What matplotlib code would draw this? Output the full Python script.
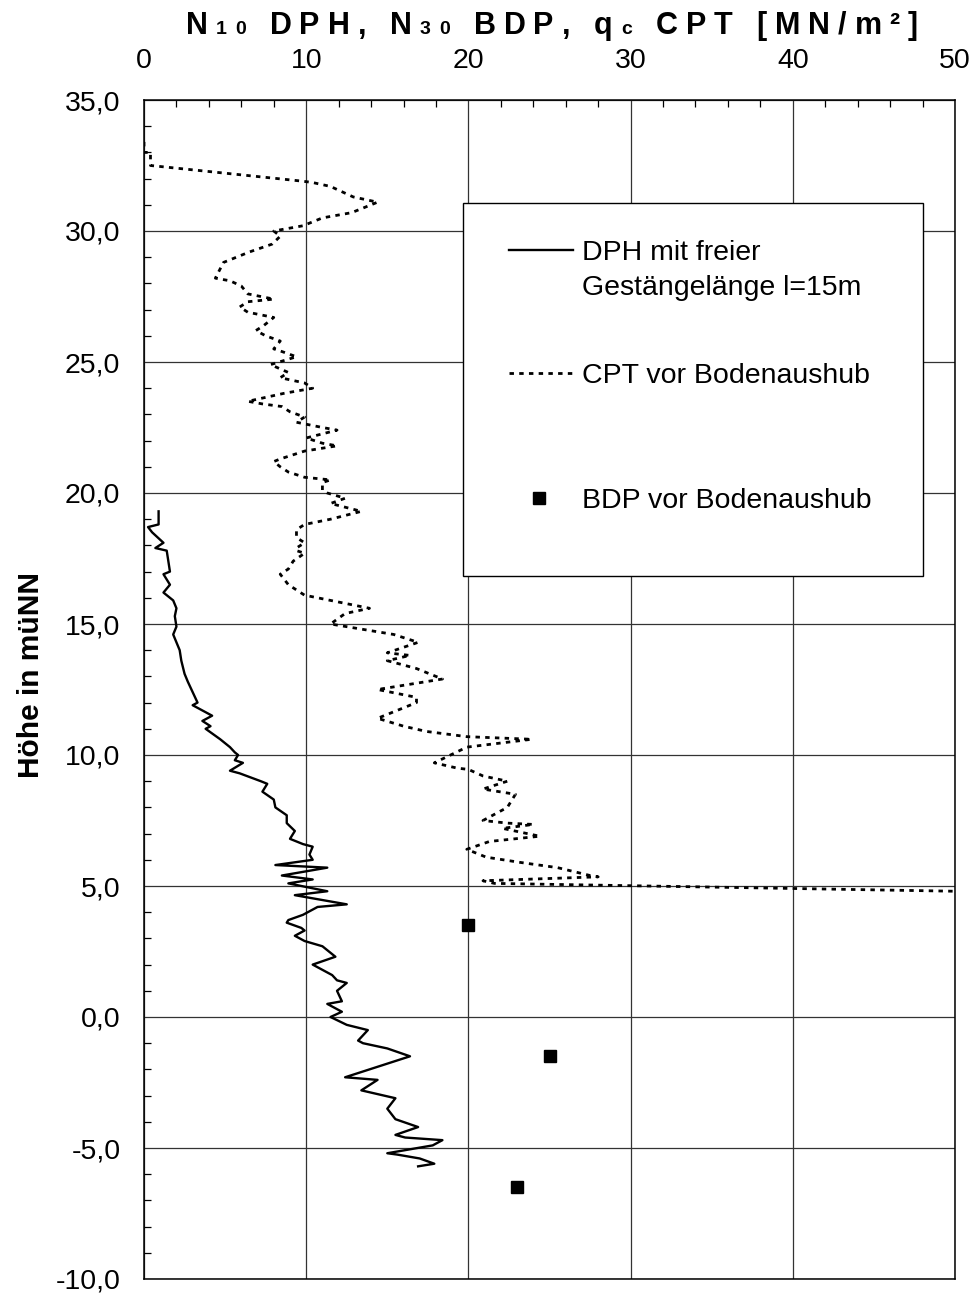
import numpy as np
import matplotlib
matplotlib.use("Agg")
import matplotlib.pyplot as plt
from matplotlib.ticker import MultipleLocator, FuncFormatter
from matplotlib.patches import Rectangle

plt.rcParams['font.family'] = ['Liberation Sans', 'DejaVu Sans']

# CPT vor Bodenaushub: Hoehe [müNN], qc [MN/m²]
cpt_z = [33.4, 33.0, 33.0, 32.5, 31.9, 31.85, 31.7, 31.3, 31.1, 30.7, 30.5, 30.2,
         30.0, 29.8, 29.5, 29.2, 28.8, 28.2, 28.1, 27.9, 27.6, 27.4, 27.3, 27.1,
         26.9, 26.7, 26.4, 26.2, 26.0, 25.8, 25.5, 25.4, 25.2, 24.9, 24.6, 24.4,
         24.2, 24.0, 23.8, 23.5, 23.4, 23.3, 23.1, 22.9, 22.7, 22.5, 22.4, 22.1,
         21.9, 21.8, 21.6, 21.3, 21.2, 21.0, 20.8, 20.6, 20.5, 20.4, 20.1, 20.0,
         19.8, 19.6, 19.3, 19.0, 18.8, 18.6, 18.3, 18.1, 17.9, 17.8, 17.7, 17.4,
         17.1, 16.9, 16.5, 16.3, 16.1, 15.6, 15.4, 15.0, 14.6, 14.3, 13.9, 13.8,
         13.6, 13.3, 12.9, 12.5, 12.2, 12.0, 11.4, 11.1, 10.9, 10.7, 10.6, 10.3,
         9.7, 9.5, 9.45, 9.2, 9.0, 8.7, 8.5, 8.0, 7.5, 7.4, 7.35, 7.2,
         6.9, 6.7, 6.4, 6.1, 5.9, 5.7, 5.4, 5.35, 5.2, 5.1, 4.8]
cpt_q = [0.0, 0.0, 0.4, 0.4, 9.8, 10.4, 11.5, 12.9, 14.4, 12.8, 11.0, 9.8,
         8.0, 8.4, 7.9, 6.5, 4.9, 4.4, 5.3, 6.0, 6.4, 8.0, 6.4, 5.9,
         6.4, 8.0, 7.4, 6.9, 7.5, 8.4, 8.0, 8.5, 9.4, 7.8, 8.9, 8.4,
         9.9, 10.4, 8.6, 6.4, 7.3, 8.5, 9.0, 9.9, 9.4, 11.0, 11.9, 10.0,
         11.0, 11.9, 9.9, 8.4, 8.0, 8.4, 8.9, 9.9, 11.5, 11.0, 11.0, 11.3,
         12.4, 11.5, 13.4, 11.5, 9.9, 9.4, 9.4, 9.9, 9.4, 9.4, 9.9, 9.2,
         8.9, 8.4, 8.9, 9.4, 9.9, 13.9, 12.4, 11.5, 15.4, 16.9, 15.0, 16.4,
         15.0, 16.8, 18.4, 14.4, 16.8, 16.8, 14.4, 16.0, 17.4, 19.9, 23.9, 19.9,
         17.9, 19.3, 20.0, 20.9, 22.4, 20.9, 22.9, 22.4, 20.9, 22.4, 24.0, 22.1,
         24.4, 21.3, 19.9, 21.1, 23.2, 25.5, 27.5, 28.0, 20.9, 21.6, 50.0]

# DPH mit freier Gestaengelaenge: Hoehe [müNN], N10
dph_z = [19.3, 18.8, 18.7, 18.5, 18.1, 17.9, 17.8, 17.4, 17.0, 16.9, 16.5, 16.2,
         15.9, 15.6, 15.3, 14.9, 14.6, 14.0, 13.6, 13.1, 12.8, 12.4, 12.0, 11.9,
         11.7, 11.5, 11.3, 11.1, 11.0, 10.6, 10.3, 10.1, 10.0, 9.8, 9.7, 9.4,
         9.3, 9.0, 8.9, 8.6, 8.3, 8.0, 7.7, 7.4, 7.1, 6.8, 6.6, 6.5,
         6.2, 6.0, 5.8, 5.7, 5.4, 5.25, 5.1, 4.8, 4.65, 4.3, 4.2, 3.9,
         3.7, 3.6, 3.4, 3.3, 3.1, 2.9, 2.7, 2.3, 2.0, 1.6, 1.4, 1.3,
         1.0, 0.6, 0.5, 0.2, 0.0, -0.3, -0.5, -0.9, -1.0, -1.2, -1.5, -1.9,
         -2.3, -2.4, -2.8, -3.1, -3.5, -3.9, -4.2, -4.5, -4.6, -4.7, -4.9, -5.2,
         -5.25, -5.4, -5.6, -5.7]
dph_n = [0.9, 0.9, 0.25, 0.5, 1.2, 0.7, 1.4, 1.5, 1.6, 1.2, 1.6, 1.2,
         1.8, 2.0, 1.9, 2.0, 1.8, 2.2, 2.3, 2.5, 2.7, 3.0, 3.3, 3.0,
         3.6, 4.2, 3.6, 4.1, 3.8, 4.7, 5.3, 5.6, 5.8, 5.6, 6.1, 5.3,
         5.9, 7.2, 7.6, 7.3, 8.0, 8.1, 8.8, 8.8, 9.3, 9.0, 9.8, 10.4,
         10.2, 10.4, 8.1, 11.3, 8.5, 10.4, 8.9, 11.3, 9.3, 12.5, 10.7, 9.8,
         8.9, 8.8, 9.7, 9.9, 9.3, 9.9, 11.0, 11.8, 10.4, 11.6, 11.9, 12.5,
         11.9, 12.2, 11.3, 12.2, 11.5, 12.5, 13.8, 13.2, 13.5, 15.0, 16.4, 14.4,
         12.4, 14.4, 13.4, 15.5, 15.0, 15.5, 16.9, 15.5, 16.1, 18.4, 17.8, 15.0,
         15.6, 17.0, 17.9, 16.9]

# BDP vor Bodenaushub
bdp_z = [3.5, -1.5, -6.5]
bdp_n = [20.0, 25.0, 23.0]

legend_labels = ["DPH mit freier", "Gestängelänge l=15m",
                 "CPT vor Bodenaushub", "BDP vor Bodenaushub"]

W, H = 979, 1294
fig = plt.figure(figsize=(W / 100, H / 100), dpi=100)
ax = fig.add_axes([144 / W, 15 / H, 811 / W, 1179 / H])

dph_style = dict(color='black', lw=1.7, ls='-')
cpt_style = dict(color='black', lw=2.0, ls=(0, (1.6, 1.9)))

ax.plot(dph_n, dph_z, **dph_style, zorder=3)
ax.plot(cpt_q, cpt_z, **cpt_style, zorder=3)
ax.plot(bdp_n, bdp_z, 's', color='black', ms=8.5, zorder=4)

ax.set_xlim(0, 50)
ax.set_ylim(-10, 35)
ax.xaxis.tick_top()
ax.xaxis.set_major_locator(MultipleLocator(10))
ax.xaxis.set_minor_locator(MultipleLocator(2))
ax.yaxis.set_major_locator(MultipleLocator(5))
ax.yaxis.set_minor_locator(MultipleLocator(1))
ax.yaxis.set_major_formatter(FuncFormatter(lambda v, p: f"{v:.1f}".replace('.', ',')))
ax.tick_params(axis='x', which='major', length=0, pad=19, labelsize=20.5)
ax.tick_params(axis='y', which='major', length=0, pad=17, labelsize=20.5)
ax.tick_params(axis='both', which='minor', direction='in', length=5, width=0.9)
ax.tick_params(axis='y', which='minor', right=False)
ax.grid(True, which='major', color='#333333', lw=0.9)
for s in ax.spines.values():
    s.set_linewidth(1.1)

ax.set_ylabel("Höhe in müNN", fontsize=21.5, fontweight='bold')
ax.yaxis.set_label_coords(-0.122, 0.512)

# legend box
ax.add_patch(Rectangle((0.3933, 0.5963), 0.5672, 0.3163, transform=ax.transAxes,
                       fc='white', ec='black', lw=1.0, zorder=5))
ax.plot([0.4501, 0.529], [0.8728, 0.8728], transform=ax.transAxes, zorder=6, **dph_style)
ax.plot([0.4501, 0.529], [0.7684, 0.7684], transform=ax.transAxes, zorder=6, **cpt_style)
ax.plot([0.4876], [0.6624], 's', color='black', ms=8, transform=ax.transAxes, zorder=6)
for lab, yb in zip(legend_labels, [0.8643, 0.8346, 0.7600, 0.6540]):
    ax.text(0.540, yb, lab, transform=ax.transAxes, fontsize=20.5,
            va='baseline', ha='left', zorder=6)

# letter-spaced title with small index characters
TITLE = "N{10} DPH, N{30} BDP, q{c} CPT [MN/m²]"
renderer = fig.canvas.get_renderer()
items, small = [], False
for ch in TITLE:
    if ch == "{":
        small = True
        continue
    if ch == "}":
        small = False
        continue
    items.append((ch, small))

track, space = 8, 16
x = 0
placed = []
for ch, sm in items:
    if ch == " ":
        x += space
        continue
    t = fig.text(0, 0, ch, fontsize=14 if sm else 22, fontweight='bold',
                 va='baseline', ha='left')
    w = t.get_window_extent(renderer).width
    placed.append((t, x))
    x += w + track
total = x - track
x0 = 552 - total / 2
for t, off in placed:
    t.set_position(((x0 + off) / W, 1 - 34 / H))

fig.savefig("out.png", dpi=100)
